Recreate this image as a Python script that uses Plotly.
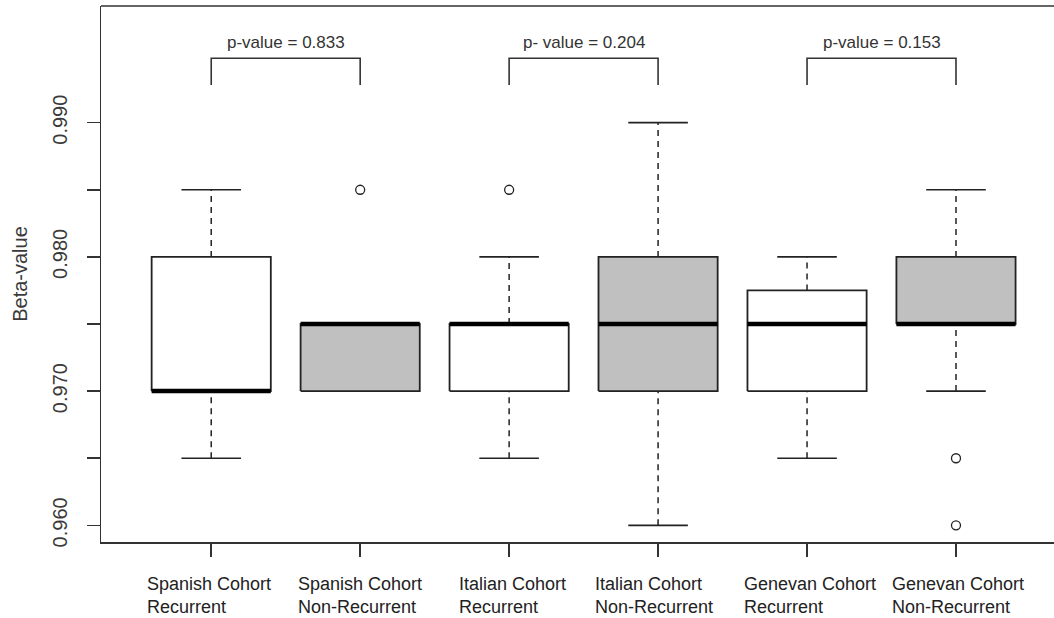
import plotly.graph_objects as go

# ---------------- data ----------------
group_labels = [
    "Spanish Cohort<br>Recurrent",
    "Spanish Cohort<br>Non-Recurrent",
    "Italian Cohort<br>Recurrent",
    "Italian Cohort<br>Non-Recurrent",
    "Genevan Cohort<br>Recurrent",
    "Genevan Cohort<br>Non-Recurrent",
]
recurrent = [True, False, True, False, True, False]
q1 = [0.970, 0.970, 0.970, 0.970, 0.970, 0.975]
median = [0.970, 0.975, 0.975, 0.975, 0.975, 0.975]
q3 = [0.980, 0.975, 0.975, 0.980, 0.9775, 0.980]
lower_whisker = [0.965, 0.970, 0.965, 0.960, 0.965, 0.970]
upper_whisker = [0.985, 0.975, 0.980, 0.990, 0.980, 0.985]
outliers = [[], [0.985], [0.985], [], [], [0.965, 0.960]]

pairs = [(0, 1), (2, 3), (4, 5)]
p_labels = ["p-value = 0.833", "p- value = 0.204", "p-value = 0.153"]

y_tick_values = [0.960, 0.965, 0.970, 0.975, 0.980, 0.985, 0.990]
y_tick_text = ["0.960", "", "0.970", "", "0.980", "", "0.990"]

# ---------------- style ----------------
FONT = "Liberation Sans, Arial, sans-serif"
LINE = "#222222"
FILL_REC = "#ffffff"
FILL_NONREC = "#c0c0c0"
HALF_BOX = 0.4
HALF_CAP = 0.2
BRACKET_TOP = 0.9948
BRACKET_BOTTOM = 0.9928
label_shift_px = [-66, -64, -52, -65, -65, -66]

fig = go.Figure()

for i in range(len(group_labels)):
    xc = i + 1
    xl, xr = xc - HALF_BOX, xc + HALF_BOX
    # whiskers (dashed)
    fig.add_trace(go.Scatter(
        x=[xc, xc, None, xc, xc],
        y=[lower_whisker[i], q1[i], None, q3[i], upper_whisker[i]],
        mode="lines", line=dict(color=LINE, width=1.5, dash="6px,5px"),
        hoverinfo="skip", showlegend=False))
    # caps
    fig.add_trace(go.Scatter(
        x=[xc - HALF_CAP, xc + HALF_CAP, None, xc - HALF_CAP, xc + HALF_CAP],
        y=[lower_whisker[i], lower_whisker[i], None, upper_whisker[i], upper_whisker[i]],
        mode="lines", line=dict(color=LINE, width=1.6),
        hoverinfo="skip", showlegend=False))
    # box
    fig.add_trace(go.Scatter(
        x=[xl, xr, xr, xl, xl],
        y=[q1[i], q1[i], q3[i], q3[i], q1[i]],
        mode="lines", fill="toself",
        fillcolor=FILL_REC if recurrent[i] else FILL_NONREC,
        line=dict(color=LINE, width=1.8),
        name=group_labels[i].replace("<br>", " "),
        hoverinfo="skip", showlegend=False))
    # median
    fig.add_trace(go.Scatter(
        x=[xl, xr], y=[median[i], median[i]],
        mode="lines", line=dict(color="#000000", width=4.5),
        hoverinfo="skip", showlegend=False))
    # outliers
    if outliers[i]:
        fig.add_trace(go.Scatter(
            x=[xc] * len(outliers[i]), y=outliers[i],
            mode="markers",
            marker=dict(symbol="circle-open", size=9, color=LINE, line=dict(width=1.3)),
            hoverinfo="skip", showlegend=False))

# p-value brackets
for (a, b), txt in zip(pairs, p_labels):
    xa, xb = a + 1, b + 1
    fig.add_trace(go.Scatter(
        x=[xa, xa, xb, xb],
        y=[BRACKET_BOTTOM, BRACKET_TOP, BRACKET_TOP, BRACKET_BOTTOM],
        mode="lines", line=dict(color="#333333", width=1.6),
        hoverinfo="skip", showlegend=False))
    fig.add_annotation(x=(xa + xb) / 2, y=BRACKET_TOP, xref="x", yref="y",
                       text=txt, showarrow=False, yanchor="bottom", yshift=4,
                       font=dict(family=FONT, size=17, color="#333333"))

# category labels (left-aligned blocks under each tick)
for i, lab in enumerate(group_labels):
    fig.add_annotation(x=i + 1, y=0, xref="x", yref="paper",
                       text=lab, showarrow=False, xanchor="left", yanchor="top",
                       align="left", xshift=label_shift_px[i], yshift=-30,
                       font=dict(family=FONT, size=18, color="#222222"))

# top border of the plotting frame
fig.add_shape(type="line", xref="paper", yref="paper", x0=0, x1=1, y0=1, y1=1,
              line=dict(color="#333333", width=1.5))

fig.update_layout(
    width=1054, height=618,
    margin=dict(l=101, r=0, t=6, b=76),
    paper_bgcolor="white", plot_bgcolor="white",
    showlegend=False,
    hovermode=False,
    font=dict(family=FONT, color="#333333"),
    xaxis=dict(
        range=[0.26, 6.658], showgrid=False, zeroline=False,
        showline=True, linecolor="#333333", linewidth=1.5,
        tickvals=[1, 2, 3, 4, 5, 6], ticktext=[""] * 6,
        ticks="outside", ticklen=13, tickwidth=1.5, tickcolor="#333333",
    ),
    yaxis=dict(
        range=[0.95876, 0.99869], showgrid=False, zeroline=False,
        showline=True, linecolor="#333333", linewidth=1.5,
        tickvals=y_tick_values, ticktext=y_tick_text,
        ticks="outside", ticklen=13, tickwidth=1.5, tickcolor="#333333",
        tickangle=-90, tickfont=dict(family=FONT, size=20, color="#3a3a3a"),
        ticklabelstandoff=12,
        title=dict(text="Beta-value", font=dict(family=FONT, size=20, color="#3a3a3a"),
                   standoff=15),
        automargin=False,
    ),
)

fig.write_html(
    "out.html",
    config={"displayModeBar": False, "staticPlot": True},
    post_script="document.body.style.margin='0';document.body.style.overflow='hidden';",
)
